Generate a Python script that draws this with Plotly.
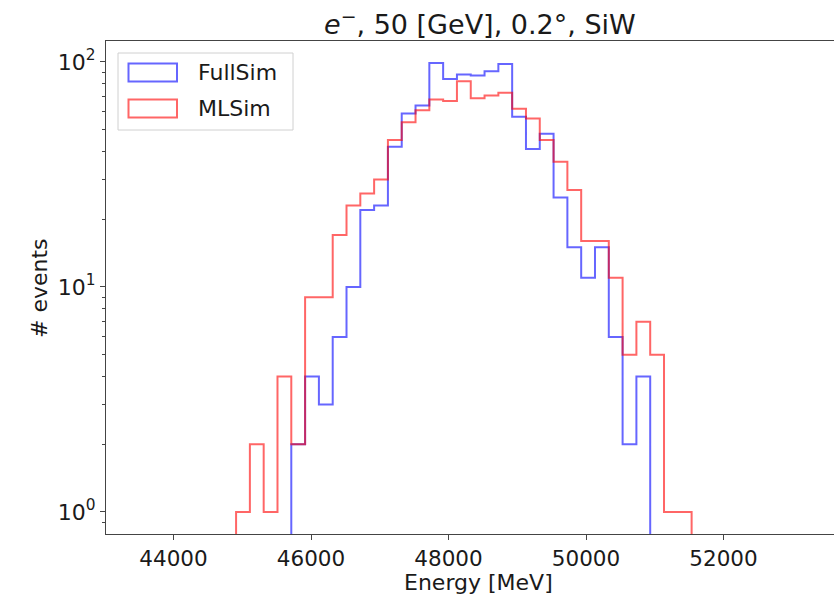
import numpy as np
import plotly.graph_objects as go

# Histogram binning (33 equal-width bins)
bin_edges = np.linspace(44910, 51536, 34)

# Event counts per bin
fullsim_counts = [0, 0, 0, 0, 2, 4, 3, 6, 10, 22, 23, 42, 59, 64, 99, 84, 88,
                  87, 91, 98, 57, 41, 48, 25, 15, 11, 15, 6, 2, 4, 0, 0, 0]
mlsim_counts = [1, 2, 1, 4, 2, 9, 9, 17, 23, 26, 30, 45, 54, 61, 68, 67, 82,
                69, 71, 73, 62, 56, 45, 36, 27, 16, 16, 11, 5, 7, 5, 1, 1]

series_names = ["FullSim", "MLSim"]
series_colors = ["rgba(0,0,255,0.6)", "rgba(255,0,0,0.6)"]

x_tick_values = [44000, 46000, 48000, 50000, 52000]
y_tick_values = [1, 10, 100]
y_tick_labels = ["10<sup>0</sup>", "10<sup>1</sup>", "10<sup>2</sup>"]

title_text = "<i>e</i><sup>−</sup>, 50 [GeV], 0.2°, SiW"
x_label = "Energy [MeV]"
y_label = "# events"

FONT = "DejaVu Sans"
W, H = 834, 604
ML, MR, MT, MB = 106, 0, 41, 70
PW, PH = W - ML - MR, H - MT - MB


def px(x):
    return (x - ML) / PW


def py(y):
    return (H - MB - y) / PH


def step_xy(edges, counts, floor=1e-3):
    # outline of a step histogram: rise at the first edge, drop at the last
    c = [v if v > 0 else floor for v in counts]
    xs = [edges[0]] + list(edges)
    ys = [floor] + c + [floor]
    return xs, ys


fig = go.Figure()
for name, counts, color in zip(series_names, [fullsim_counts, mlsim_counts], series_colors):
    xs, ys = step_xy(bin_edges, counts)
    fig.add_trace(go.Scatter(
        x=xs, y=ys, mode="lines", name=name,
        line=dict(color=color, width=2, shape="hv"),
        showlegend=False, hoverinfo="skip",
    ))

axis_col = "#444444"
fig.update_layout(
    width=W, height=H,
    margin=dict(l=ML, r=MR, t=MT, b=MB),
    paper_bgcolor="white", plot_bgcolor="white",
    font=dict(family=FONT, size=22, color="#1a1a1a"),
    xaxis=dict(
        range=[43018, 53607], tickvals=x_tick_values, tickformat="d",
        ticks="outside", ticklen=5, tickwidth=1, tickcolor=axis_col,
        showline=True, linecolor=axis_col, linewidth=1, mirror=True,
        showgrid=False, zeroline=False,
        tickfont=dict(family=FONT, size=21.5),
    ),
    yaxis=dict(
        type="log", range=[-0.0978, 2.093],
        tickvals=y_tick_values, ticktext=y_tick_labels,
        ticks="outside", ticklen=5, tickwidth=1, tickcolor=axis_col,
        minor=dict(ticks="outside", ticklen=3, tickcolor=axis_col,
                   tickvals=[0.9] + list(range(2, 10)) + list(range(20, 100, 10))),
        showline=True, linecolor=axis_col, linewidth=1,
        showgrid=False, zeroline=False,
        tickfont=dict(family=FONT, size=22),
    ),
)

annotations = [
    dict(text=title_text, x=px(480), y=py(22), xref="paper", yref="paper",
         xanchor="center", yanchor="middle", showarrow=False,
         font=dict(family=FONT, size=27)),
    dict(text=x_label, x=px(479), y=py(582), xref="paper", yref="paper",
         xanchor="center", yanchor="middle", showarrow=False,
         font=dict(family=FONT, size=22)),
    dict(text=y_label, x=px(39), y=py(288), xref="paper", yref="paper",
         xanchor="center", yanchor="middle", showarrow=False, textangle=-90,
         font=dict(family=FONT, size=22)),
]

# Legend frame and entries
shapes = [dict(type="rect", xref="paper", yref="paper",
               x0=px(118), x1=px(293), y0=py(130), y1=py(53),
               line=dict(color="#d0d0d0", width=1), fillcolor="rgba(255,255,255,0.8)",
               layer="above")]
for i, (name, color) in enumerate(zip(series_names, series_colors)):
    yc = 72.5 + 36 * i
    shapes.append(dict(type="rect", xref="paper", yref="paper",
                       x0=px(128.5), x1=px(177), y0=py(yc + 9), y1=py(yc - 9),
                       line=dict(color=color, width=2), fillcolor="rgba(0,0,0,0)",
                       layer="above"))
    annotations.append(dict(text=name, x=px(196), y=py(yc), xref="paper", yref="paper",
                            xanchor="left", yanchor="middle", showarrow=False,
                            font=dict(family=FONT, size=22)))

fig.update_layout(annotations=annotations, shapes=shapes)
fig.write_html("out.html")
